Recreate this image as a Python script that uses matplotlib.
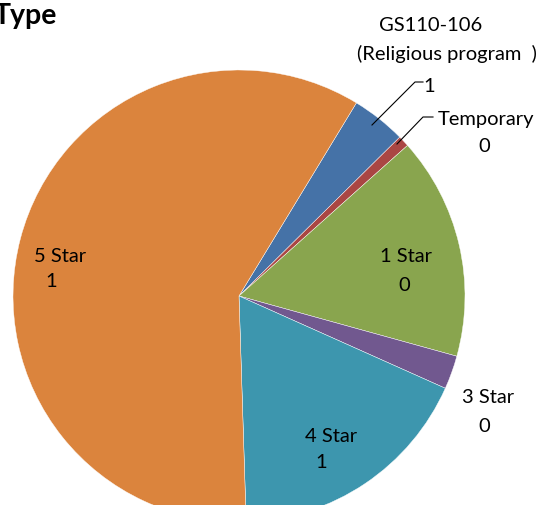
import matplotlib.pyplot as plt

categories = ['GS110-106\n(Religious program  )', 'Temporary', '1 Star', '3 Star', '4 Star', '5 Star']
sizes = [3.9, 0.8, 15.9, 2.4, 17.8, 59.2]
shown = ['1', '0', '0', '0', '1', '1']
colors = ['#4572A7', '#AA4643', '#89A54E', '#71588F', '#3D96AE', '#DB843D']

plt.rcParams['font.family'] = ['Lato', 'DejaVu Sans']

W, H = 536, 506
fig = plt.figure(figsize=(W / 100, H / 100), dpi=100)
ax = fig.add_axes([0, 0, 1, 1])

ax.pie(sizes, colors=colors, startangle=58.7, counterclock=False,
       center=(239, H - 297), radius=226,
       wedgeprops=dict(edgecolor='white', linewidth=0.3))

# pie resets the limits, so set pixel coordinates afterwards
ax.set_xlim(0, W)
ax.set_ylim(0, H)
ax.set_aspect('equal')
ax.axis('off')

fs = 14.5


def label(x, y, s):
    # x is the centre, y the baseline, both in pixels from top-left
    ax.text(x, H - y, s, ha='center', va='baseline', fontsize=fs)


name0, name0b = categories[0].split('\n')
label(431, 31, name0)
label(447, 60, name0b)
label(429, 92, shown[0])
ax.plot([423, 415, 372], [H - 83, H - 83, H - 126], color='black', lw=0.8)

label(486, 125, categories[1])
label(484, 152, shown[1])
ax.plot([433, 423, 397], [H - 118, H - 118, H - 145], color='black', lw=0.8)

label(406, 262, categories[2])
label(404, 291, shown[2])

label(488, 403, categories[3])
label(484, 432, shown[3])

label(331, 442, categories[4])
label(321, 468, shown[4])

label(60, 262, categories[5])
label(51, 287, shown[5])

ax.text(57, H - 24, 'Type', ha='right', va='baseline', fontsize=20.5, fontweight='bold')

fig.savefig('out.png', dpi=100)
